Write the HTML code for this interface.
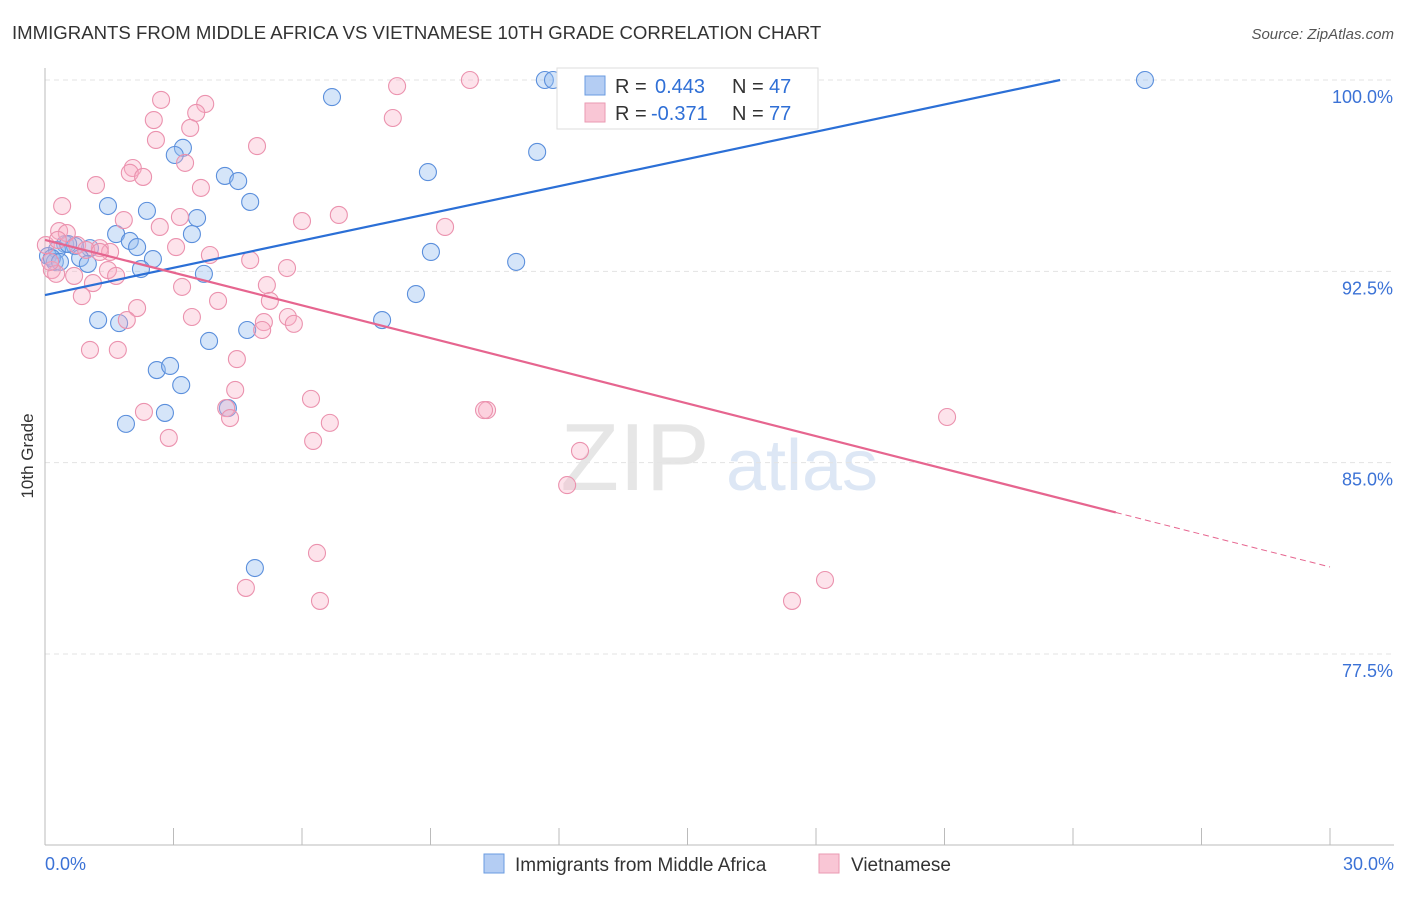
<!DOCTYPE html>
<html><head><meta charset="utf-8"><style>
body{margin:0;background:#fff;font-family:"Liberation Sans",sans-serif}
svg text{font-family:"Liberation Sans",sans-serif}
</style></head><body>
<svg id="chart" width="1406" height="892" xmlns="http://www.w3.org/2000/svg">
<text x="12" y="39" font-size="18.6" fill="#333">IMMIGRANTS FROM MIDDLE AFRICA VS VIETNAMESE 10TH GRADE CORRELATION CHART</text>
<text x="1394" y="39" font-size="15" fill="#555" text-anchor="end" font-style="italic">Source: ZipAtlas.com</text>
<text transform="translate(33,456) rotate(-90)" font-size="17" fill="#333" text-anchor="middle">10th Grade</text>
<g>
<text x="635" y="490" font-size="96" fill="#e6e6e6" font-family="Liberation Serif" text-anchor="middle">ZIP</text>
<text x="802" y="490" font-size="72" fill="#dde7f5" text-anchor="middle">atlas</text>
</g>
<g id="grid"></g><g id="axes"></g><g id="pts"></g><g id="lines"></g>
<g>
<rect x="557" y="68" width="261" height="61" fill="#fff" stroke="#ddd"/>
<rect x="585" y="76" width="20" height="19" fill="#b4cdf3" stroke="#6a9be0"/>
<rect x="585" y="103" width="20" height="19" fill="#f9c6d5" stroke="#ea9ab2"/>
<text x="615" y="93" font-size="20" fill="#333">R =</text>
<text x="655" y="93" font-size="20" fill="#2f6fd6">0.443</text>
<text x="732" y="93" font-size="20" fill="#333">N =</text>
<text x="769" y="93" font-size="20" fill="#2f6fd6">47</text>
<text x="615" y="120" font-size="20" fill="#333">R =</text>
<text x="651" y="120" font-size="20" fill="#2f6fd6">-0.371</text>
<text x="732" y="120" font-size="20" fill="#333">N =</text>
<text x="769" y="120" font-size="20" fill="#2f6fd6">77</text>
</g>
<g>
<rect x="484" y="854" width="20" height="19" fill="#b4cdf3" stroke="#6a9be0"/>
<text x="515" y="871" font-size="19" fill="#333">Immigrants from Middle Africa</text>
<rect x="819" y="854" width="20" height="19" fill="#f9c6d5" stroke="#ea9ab2"/>
<text x="851" y="871" font-size="19" fill="#333">Vietnamese</text>
</g>
</svg>
<script>
const yTicks=[100,92.5,85,77.5];
const yTickLabels=["100.0%","92.5%","85.0%","77.5%"];
const xLabels=["0.0%","30.0%"];
const blueX=[11.67,11.86,25.68,6.70,11.49,3.22,3.03,8.94,4.20,4.51,4.79,1.47,2.38,3.55,1.66,3.43,1.98,2.15,0.47,1.05,0.28,0.70,0.07,0.23,0.82,1.00,2.52,2.24,3.71,9.01,11.00,8.66,1.24,1.73,7.87,4.72,3.83,2.61,2.92,3.18,2.80,4.27,1.89,4.90,0.16,0.54,0.35];
const blueY=[100,100,100,99.33,97.18,97.34,97.06,96.39,96.24,96.04,95.22,95.06,94.87,94.59,93.96,93.96,93.69,93.45,93.57,93.41,93.34,93.49,93.10,92.87,93.02,92.79,92.98,92.59,92.40,93.26,92.87,91.61,90.59,90.47,90.59,90.20,89.77,88.63,88.79,88.04,86.95,87.14,86.52,80.87,93.02,93.57,92.87];
const pinkX=[9.92,8.22,15.50,2.71,3.74,3.53,2.54,8.12,3.39,2.59,4.95,3.27,2.05,1.98,2.29,1.19,3.64,0.40,1.84,3.15,6.00,6.86,9.34,0.33,0.51,2.68,3.06,1.28,0.75,1.52,3.85,4.79,5.65,0.16,0.26,1.47,1.66,0.68,1.12,3.20,5.18,0.86,4.04,5.25,2.15,3.43,1.91,5.67,5.11,5.81,5.07,1.05,1.70,4.48,4.44,4.23,6.21,4.32,2.31,10.32,10.25,6.65,21.06,2.89,6.26,12.49,12.19,6.35,18.21,4.69,6.42,17.44,0.02,0.12,0.96,1.28,0.30];
const pinkY=[100,99.76,100,99.22,99.06,98.71,98.43,98.51,98.12,97.65,97.41,96.75,96.55,96.36,96.20,95.88,95.77,95.06,94.51,94.63,94.47,94.71,94.24,94.08,94.00,94.24,93.45,93.41,93.53,93.26,93.14,92.94,92.63,92.55,92.40,92.55,92.32,92.32,92.04,91.89,91.96,91.53,91.34,91.34,91.06,90.71,90.59,90.71,90.51,90.44,90.20,89.42,89.42,89.06,87.85,87.14,87.50,86.75,86.99,87.06,87.06,86.56,86.79,85.97,85.85,85.46,84.12,81.46,80.40,80.09,79.58,79.58,93.53,92.87,93.34,93.26,93.73];
const blueTrend=[91.57,0.3557];
const pinkTrend=[93.73,-0.4273];
const X=v=>45+v/30*1285, Y=v=>80+(100-v)/7.5*191.33;
const NS="http://www.w3.org/2000/svg";
function mk(p,t,a){const e=document.createElementNS(NS,t);for(const k in a)e.setAttribute(k,a[k]);p.appendChild(e);return e;}
const grid=document.getElementById('grid'),axes=document.getElementById('axes'),pts=document.getElementById('pts'),lines=document.getElementById('lines');
yTicks.forEach((t,i)=>{
 const l=mk(grid,'line',{x1:45,x2:1394,y1:Y(t),y2:Y(t),stroke:'#e3e3e3','stroke-dasharray':'5,4'});
 
 
 const tx=mk(grid,'text',{x:1393,y:Y(t)+23,'font-size':18,fill:'#3b72d6','text-anchor':'end'});
 tx.textContent=yTickLabels[i];
 
 
});
const ya=mk(axes,'line',{x1:45,x2:45,y1:68,y2:845,stroke:'#bbb'});


const xa=mk(axes,'line',{x1:45,x2:1394,y1:845,y2:845,stroke:'#bbb'});


for(let i=0;i<=10;i++){const v=i*3;const t=mk(axes,'line',{x1:X(v),x2:X(v),y1:828,y2:845,stroke:'#bbb'});
 
 }
[[0,'start',45],[30,'end',1394]].forEach((d,i)=>{const t=mk(axes,'text',{x:d[2],y:870,'font-size':18,fill:'#3b72d6','text-anchor':d[1]});t.textContent=xLabels[i];
 
 });
blueX.forEach((x,i)=>{const c=mk(pts,'circle',{cx:X(x),cy:Y(blueY[i]),r:8.5,fill:'rgba(150,190,240,0.4)',stroke:'#5b8fdc','stroke-width':1.1});
 
 });
pinkX.forEach((x,i)=>{const c=mk(pts,'circle',{cx:X(x),cy:Y(pinkY[i]),r:8.5,fill:'rgba(248,175,198,0.35)',stroke:'#eb92ae','stroke-width':1.1});
 
 });
const bEnd=(100-blueTrend[0])/blueTrend[1];
const bl=mk(lines,'line',{x1:X(0),y1:Y(blueTrend[0]),x2:X(bEnd),y2:Y(100),stroke:'#2b6fd6','stroke-width':2.2});


const pl=mk(lines,'line',{x1:X(0),y1:Y(pinkTrend[0]),x2:X(25),y2:Y(pinkTrend[0]+pinkTrend[1]*25),stroke:'#e6658f','stroke-width':2.2});


const pd=mk(lines,'line',{x1:X(25),y1:Y(pinkTrend[0]+pinkTrend[1]*25),x2:X(30),y2:Y(pinkTrend[0]+pinkTrend[1]*30),stroke:'#e6658f','stroke-width':1,'stroke-dasharray':'6,4'});


</script>
</body></html>
